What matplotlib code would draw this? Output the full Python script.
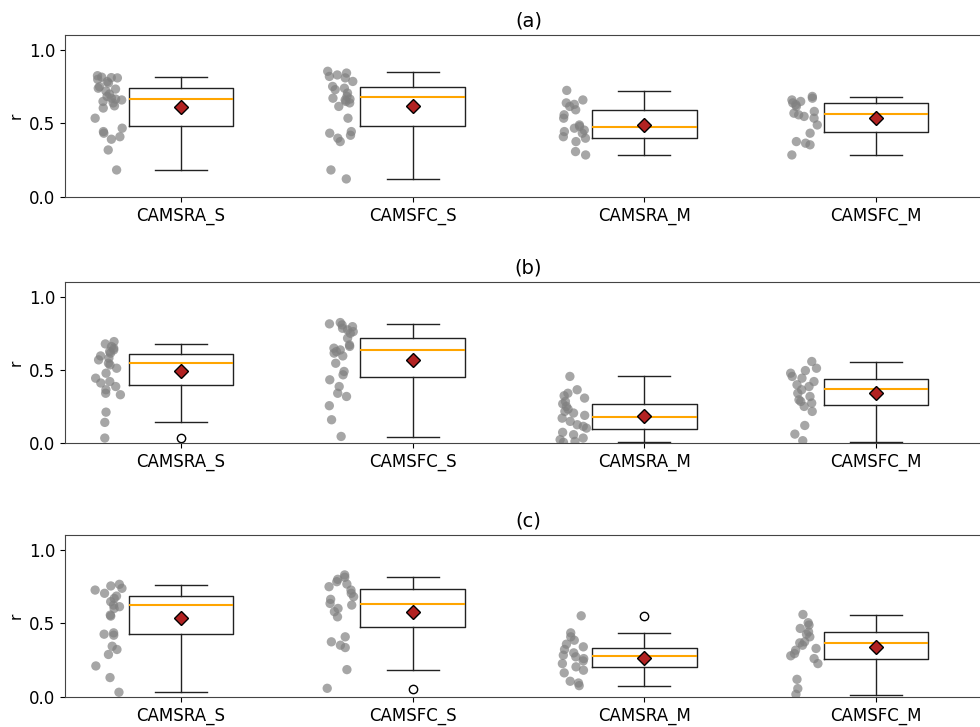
import matplotlib
matplotlib.use("Agg")
import matplotlib.pyplot as plt
import numpy as np

# model names on the x axis
labels = ["CAMSRA_S", "CAMSFC_S", "CAMSRA_M", "CAMSFC_M"]
panel_titles = ["(a)", "(b)", "(c)"]

# box statistics: [whislo, q1, med, q3, whishi, mean]
stats_a = [
    [0.182, 0.480, 0.666, 0.741, 0.814, 0.611],
    [0.125, 0.486, 0.680, 0.745, 0.850, 0.620],
    [0.286, 0.400, 0.477, 0.595, 0.723, 0.491],
    [0.286, 0.445, 0.566, 0.636, 0.682, 0.539],
]
stats_b = [
    [0.141, 0.395, 0.550, 0.611, 0.675, 0.489],
    [0.041, 0.448, 0.636, 0.716, 0.814, 0.568],
    [0.005, 0.095, 0.177, 0.270, 0.455, 0.182],
    [0.007, 0.257, 0.368, 0.439, 0.552, 0.339],
]
stats_c = [
    [0.032, 0.425, 0.625, 0.689, 0.761, 0.539],
    [0.184, 0.475, 0.630, 0.734, 0.818, 0.580],
    [0.077, 0.205, 0.277, 0.330, 0.432, 0.268],
    [0.011, 0.259, 0.370, 0.443, 0.557, 0.343],
]
fliers_a = [[], [], [], []]
fliers_b = [[0.034], [], [], []]
fliers_c = [[], [0.057], [0.550], []]

# station values (grey dots)
pts_a = [
    [0.825, 0.815, 0.81, 0.812, 0.80, 0.785, 0.775, 0.75, 0.734, 0.74, 0.72, 0.70, 0.684,
     0.672, 0.666, 0.66, 0.65, 0.64, 0.62, 0.605, 0.536, 0.468, 0.445, 0.434, 0.41, 0.393,
     0.32, 0.184],
    [0.855, 0.843, 0.83, 0.82, 0.81, 0.786, 0.752, 0.74, 0.73, 0.707, 0.684, 0.672, 0.666,
     0.66, 0.65, 0.64, 0.616, 0.536, 0.445, 0.434, 0.42, 0.40, 0.377, 0.184, 0.123],
    [0.725, 0.66, 0.64, 0.63, 0.616, 0.593, 0.559, 0.536, 0.49, 0.48, 0.468, 0.455, 0.445,
     0.434, 0.41, 0.40, 0.377, 0.309, 0.286],
    [0.684, 0.672, 0.66, 0.65, 0.64, 0.628, 0.616, 0.582, 0.57, 0.559, 0.548, 0.536, 0.49,
     0.434, 0.377, 0.366, 0.355, 0.286],
]
pts_b = [
    [0.693, 0.677, 0.659, 0.648, 0.636, 0.625, 0.614, 0.595, 0.58, 0.568, 0.545, 0.534,
     0.511, 0.477, 0.443, 0.42, 0.41, 0.386, 0.364, 0.34, 0.33, 0.211, 0.141, 0.034],
    [0.823, 0.814, 0.807, 0.795, 0.784, 0.773, 0.761, 0.75, 0.716, 0.67, 0.66, 0.648, 0.636,
     0.625, 0.614, 0.595, 0.545, 0.489, 0.466, 0.432, 0.386, 0.34, 0.318, 0.255, 0.159,
     0.045],
    [0.455, 0.364, 0.34, 0.323, 0.307, 0.284, 0.268, 0.25, 0.232, 0.216, 0.205, 0.189,
     0.17, 0.148, 0.125, 0.114, 0.102, 0.073, 0.057, 0.034, 0.023, 0.011, 0.005],
    [0.557, 0.511, 0.495, 0.477, 0.455, 0.443, 0.42, 0.398, 0.386, 0.364, 0.34, 0.318,
     0.295, 0.284, 0.273, 0.25, 0.216, 0.12, 0.061, 0.016],
]
pts_c = [
    [0.766, 0.755, 0.739, 0.727, 0.705, 0.686, 0.67, 0.648, 0.625, 0.614, 0.602, 0.557,
     0.55, 0.436, 0.427, 0.42, 0.345, 0.323, 0.289, 0.211, 0.132, 0.032],
    [0.83, 0.814, 0.80, 0.784, 0.768, 0.75, 0.727, 0.705, 0.682, 0.664, 0.636, 0.625,
     0.602, 0.58, 0.545, 0.409, 0.375, 0.352, 0.336, 0.186, 0.059],
    [0.552, 0.436, 0.409, 0.386, 0.359, 0.341, 0.323, 0.30, 0.284, 0.273, 0.261, 0.245,
     0.227, 0.205, 0.182, 0.164, 0.107, 0.095, 0.077],
    [0.561, 0.505, 0.489, 0.466, 0.443, 0.427, 0.409, 0.375, 0.368, 0.352, 0.33, 0.318,
     0.295, 0.28, 0.261, 0.227, 0.12, 0.057, 0.018],
]

panels = [(stats_a, fliers_a, pts_a), (stats_b, fliers_b, pts_b), (stats_c, fliers_c, pts_c)]

fig = plt.figure(figsize=(9.8, 7.27), dpi=100)
# axes run past the right edge, like the cropped original
boxes = [(0.0663, 0.729, 0.946, 0.2225),
         (0.0663, 0.3906, 0.946, 0.2215),
         (0.0663, 0.0413, 0.946, 0.2225)]

rng = np.random.default_rng(3)
for (stats, fliers, pts), title, rect in zip(panels, panel_titles, boxes):
    ax = fig.add_axes(rect)
    bxp_stats = []
    for s, f, lab in zip(stats, fliers, labels):
        bxp_stats.append(dict(whislo=s[0], q1=s[1], med=s[2], q3=s[3], whishi=s[4],
                              mean=s[5], fliers=f, label=lab))
    ax.bxp(bxp_stats, positions=range(len(labels)), widths=0.45, showmeans=True,
           boxprops=dict(color="#222222"), whiskerprops=dict(color="#222222"),
           capprops=dict(color="#222222"),
           medianprops=dict(color="orange", linewidth=1.5),
           meanprops=dict(marker="D", markerfacecolor="#b22222", markeredgecolor="black",
                          markersize=7),
           flierprops=dict(marker="o", markerfacecolor="white", markeredgecolor="black",
                           markersize=6))
    for i, vals in enumerate(pts):
        # horizontal jitter only, to the left of each box
        x = -0.31 + i + rng.uniform(-0.06, 0.06, len(vals))
        ax.scatter(x, vals, s=45, color="grey", alpha=0.7, edgecolors="none", zorder=3)
    ax.set_xlim(-0.5, 3.5)
    ax.set_ylim(0, 1.1)
    ax.set_yticks([0.0, 0.5, 1.0])
    ax.set_xticks(range(len(labels)))
    ax.set_xticklabels(labels)
    ax.tick_params(labelsize=12)
    for sp in ax.spines.values():
        sp.set_color("#444444")
    ax.set_ylabel("r", fontsize=11)
    ax.set_title(title, fontsize=14)

fig.savefig("out.png", dpi=100)
